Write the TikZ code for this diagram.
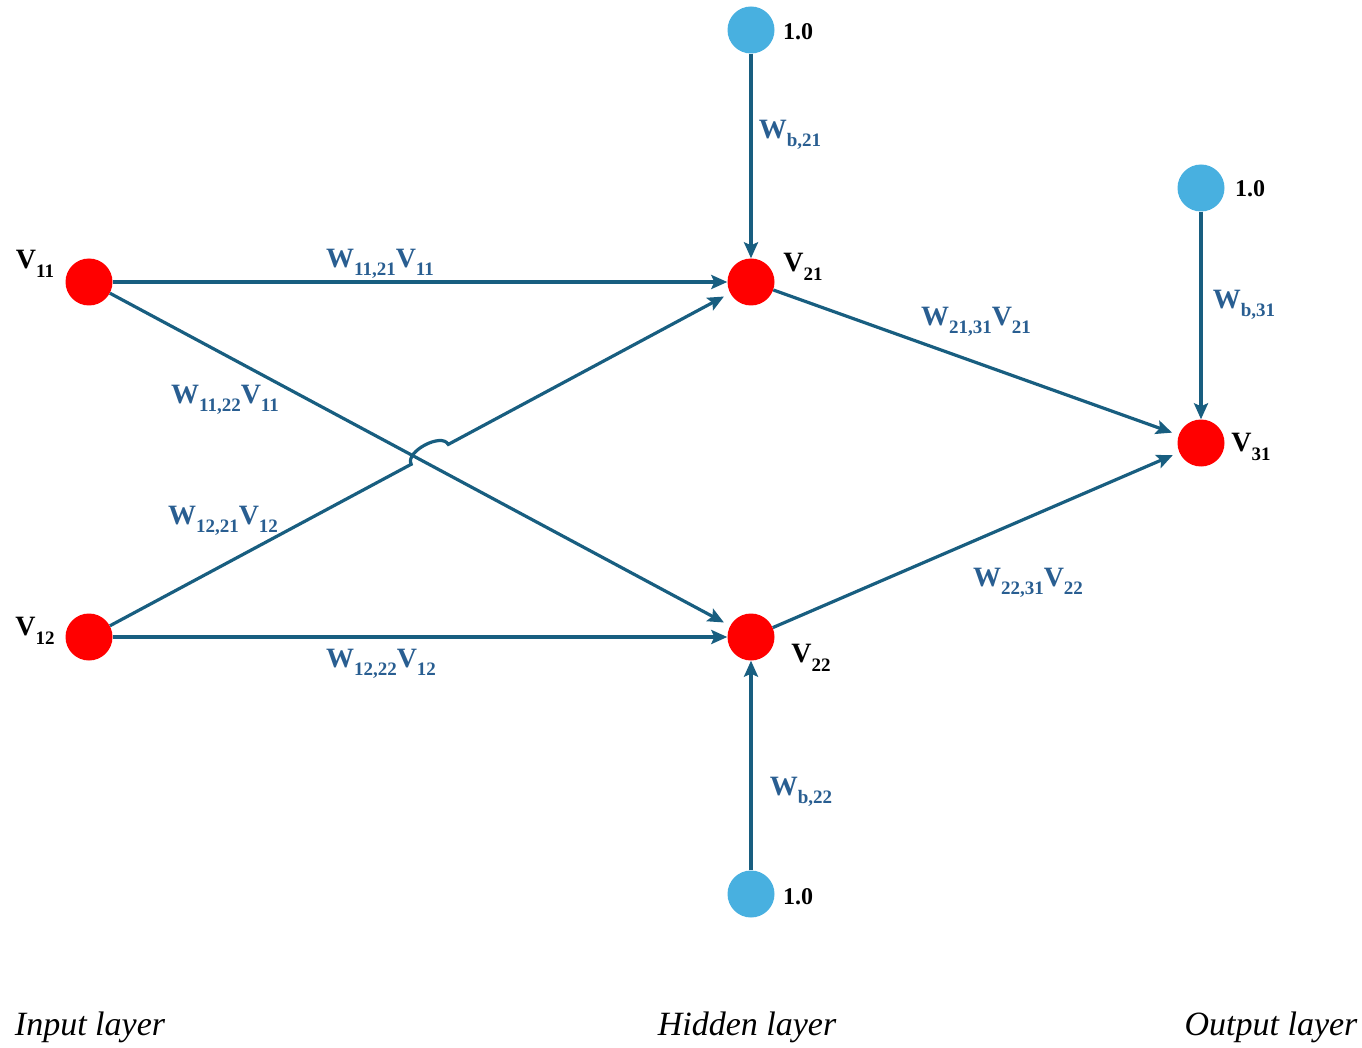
\documentclass[tikz,border=0pt]{standalone}
\usepackage{fontspec}
\setmainfont{Liberation Serif}
\usetikzlibrary{arrows.meta,calc}
\definecolor{edgec}{RGB}{24,94,128}
\definecolor{labc}{RGB}{41,94,145}
\definecolor{biasc}{RGB}{72,176,224}
\newcommand{\sbx}[1]{\raisebox{-0.3em}{\fontsize{19}{19}\selectfont #1}}
\newcommand{\sbv}[1]{\raisebox{-0.3em}{\fontsize{19}{19}\selectfont #1}}
\begin{document}
\begin{tikzpicture}[x=1pt,y=-1pt,
  neuron/.style={circle,fill=red,draw=none,minimum size=47pt,inner sep=0pt},
  bias/.style={circle,fill=biasc,draw=none,minimum size=47pt,inner sep=0pt},
  edge/.style={draw=edgec,line width=3.2pt,-{Stealth[length=16pt,width=14pt,inset=3pt]}},
  wlab/.style={text=labc,font=\bfseries\fontsize{28}{28}\selectfont,inner sep=0pt},
  vlab/.style={text=black,font=\bfseries\fontsize{28}{28}\selectfont,inner sep=0pt},
  onelab/.style={text=black,font=\bfseries\fontsize{24}{24}\selectfont,inner sep=0pt},
  layerlab/.style={text=black,font=\itshape\fontsize{34}{34}\selectfont,inner sep=0pt}]
\useasboundingbox (0,0) rectangle (1362,1048);
% neurons
\node[neuron] (v11) at (89,282) {};
\node[neuron] (v12) at (89,637) {};
\node[neuron] (v21) at (751,282) {};
\node[neuron] (v22) at (751,637) {};
\node[neuron] (v31) at (1201,443) {};
% bias nodes
\node[bias] (b21) at (751,30) {};
\node[bias] (b31) at (1201,188) {};
\node[bias] (b22) at (751,894) {};
% connectors
\draw[edge] (b21) -- (v21);
\draw[edge] (b31) -- (v31);
\draw[edge] (b22) -- (v22);
\draw[edge] (v11) -- (v21);
\draw[edge] (v12) -- (v22);
\draw[edge,shorten >=7pt] (v11) -- (v22);
\draw[edge,shorten >=7pt] (v21) -- (v31);
\draw[edge,shorten >=7pt] (v22) -- (v31);
\coordinate (x) at (intersection of v11--v22 and v12--v21);
\coordinate (h1) at ($(x)!10pt!(v12)$);
\coordinate (h2) at ($(x)!32pt!(v21)$);
\draw[edge,shorten >=7pt] (v12) -- (h1)
  .. controls ($(h1)!14pt!90:(x)$) and ($(h2)!14pt!-90:(x)$) .. (h2) -- (v21);
% weight labels
\node[wlab] (l1) at (380,264) {W\sbx{11,21}V\sbx{11}};
\node[wlab] (l2) at (225,400) {W\sbx{11,22}V\sbx{11}};
\node[wlab] (l3) at (223,521) {W\sbx{12,21}V\sbx{12}};
\node[wlab] (l4) at (381,664) {W\sbx{12,22}V\sbx{12}};
\node[wlab] (l5) at (976,322) {W\sbx{21,31}V\sbx{21}};
\node[wlab] (l6) at (1028,583) {W\sbx{22,31}V\sbx{22}};
\node[wlab] (l7) at (790,135) {W\sbx{b,21}};
\node[wlab] (l8) at (1244,305) {W\sbx{b,31}};
\node[wlab] (l9) at (801,792) {W\sbx{b,22}};
% neuron labels
\node[vlab] (t11) at (35,264) {V\sbv{11}};
\node[vlab] (t12) at (35,631) {V\sbv{12}};
\node[vlab] (t21) at (803,267) {V\sbv{21}};
\node[vlab] (t22) at (811,658) {V\sbv{22}};
\node[vlab] (t31) at (1251,447) {V\sbv{31}};
% bias labels
\node[onelab] (o21) at (798,32) {1.0};
\node[onelab] (o31) at (1250,189) {1.0};
\node[onelab] (o22) at (798,897) {1.0};
% layer labels
\node[layerlab] (in) at (90,1027) {Input layer};
\node[layerlab] (hid) at (747,1027) {Hidden layer};
\node[layerlab] (out) at (1271,1027) {Output layer};
\end{tikzpicture}
\end{document}
